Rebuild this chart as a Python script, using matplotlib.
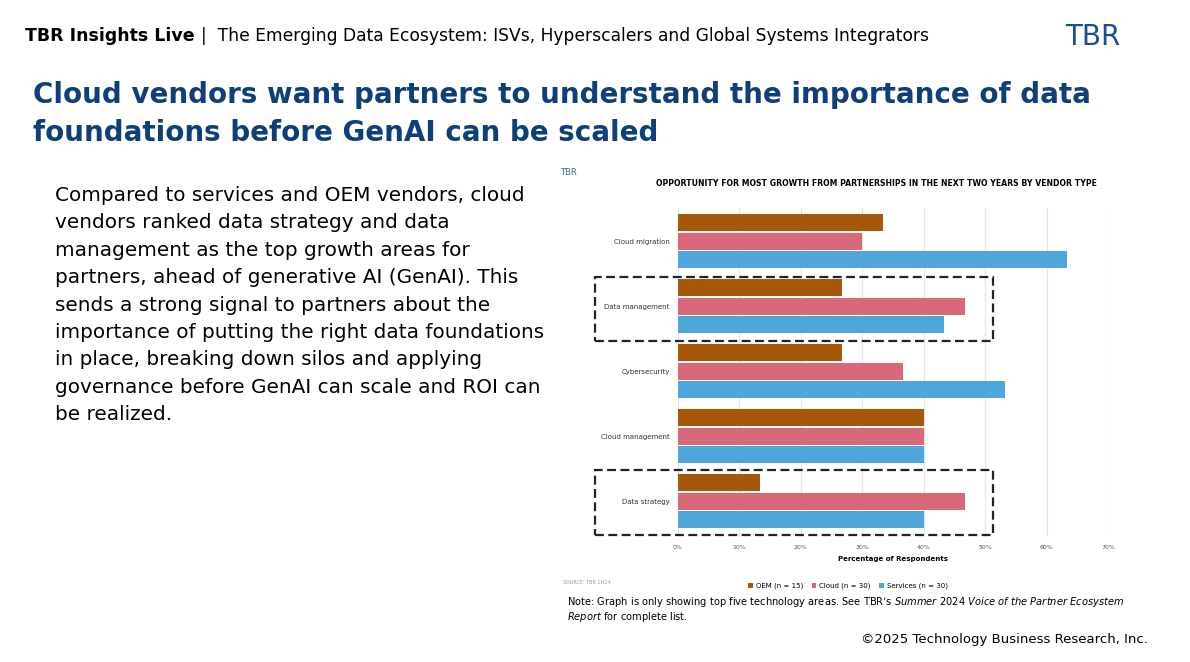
import matplotlib
matplotlib.use("Agg")
import matplotlib.pyplot as plt
from matplotlib.patches import Rectangle
import numpy as np

categories = ["Cloud migration", "Data management", "Cybersecurity", "Cloud management", "Data strategy"]
oem = [33.3, 26.7, 26.7, 40.0, 13.3]
cloud = [30.0, 46.7, 36.7, 40.0, 46.7]
services = [63.3, 43.3, 53.3, 40.0, 40.0]
xticks = [0, 10, 20, 30, 40, 50, 60, 70]

W, H = 1190, 662
fig = plt.figure(figsize=(W/100, H/100), dpi=100)
fig.patch.set_facecolor("white")
def fx(x): return x / W
def fy(y): return 1 - y / H

navy = "#0E3F78"
fig.text(fx(25), fy(36), "TBR Insights Live", fontsize=12.5, fontweight="bold", color="black", va="center")
fig.text(fx(201), fy(36), "|  The Emerging Data Ecosystem: ISVs, Hyperscalers and Global Systems Integrators", fontsize=12.3, color="black", va="center")
fig.text(fx(1065), fy(37), "TBR", fontsize=20, color="#1B4F8C", va="center")
fig.text(fx(33), fy(95), "Cloud vendors want partners to understand the importance of data", fontsize=20, fontweight="bold", color=navy, va="center")
fig.text(fx(33), fy(133), "foundations before GenAI can be scaled", fontsize=20, fontweight="bold", color=navy, va="center")

body = ("Compared to services and OEM vendors, cloud\nvendors ranked data strategy and data\nmanagement as the top growth areas for\n"
        "partners, ahead of generative AI (GenAI). This\nsends a strong signal to partners about the\n"
        "importance of putting the right data foundations\nin place, breaking down silos and applying\n"
        "governance before GenAI can scale and ROI can\nbe realized.")
fig.text(fx(55), fy(186), body, fontsize=14.4, color="black", va="top", linespacing=1.56)

fig.text(fx(560), fy(172), "TBR", fontsize=6, color="#2E6DA4", va="center")
fig.text(fx(876), fy(184), "OPPORTUNITY FOR MOST GROWTH FROM PARTNERSHIPS IN THE NEXT TWO YEARS BY VENDOR TYPE",
         fontsize=5.6, fontweight="bold", ha="center", va="center")

ax = fig.add_axes([fx(678), fy(537), fx(1108) - fx(678), (537 - 208) / H])
y = np.arange(len(categories))
off, h = 0.285, 0.265
ax.barh(y - off, oem, height=h, color="#A8580A", label="OEM (n = 15)")
ax.barh(y, cloud, height=h, color="#D9687A", label="Cloud (n = 30)")
ax.barh(y + off, services, height=h, color="#4EA6DB", label="Services (n = 30)")
ax.set_xlim(0, 70)
ax.set_ylim(4.55, -0.51)
ax.set_xticks(xticks)
ax.set_xticklabels([f"{t}%" for t in xticks], fontsize=4.5, color="#555555")
ax.set_yticks(y)
ax.set_yticklabels(categories, fontsize=5, color="#333333")
ax.tick_params(length=0, pad=6)
ax.grid(axis="x", color="#e6e6e6", lw=0.8)
ax.set_axisbelow(True)
for s in ax.spines.values():
    s.set_visible(False)
ax.set_xlabel("Percentage of Respondents", fontsize=5, fontweight="bold", labelpad=4)
fig.legend(loc="center", bbox_to_anchor=(fx(848), fy(586)), ncol=3, fontsize=5, frameon=False,
           handlelength=0.7, handleheight=0.7, columnspacing=1.2, handletextpad=0.4)
fig.text(fx(563), fy(582), "SOURCE: TBR 1H24", fontsize=3.5, color="#999999", va="center")

for top, bot in [(277, 341), (470, 535)]:
    fig.patches.append(Rectangle((fx(595), fy(bot)), fx(993) - fx(595), (bot - top) / H,
                                 transform=fig.transFigure, fill=False, ls=(0, (4, 2)), lw=1.6, ec="#222222"))

fig.text(fx(567), fy(602), "Note: Graph is only showing top five technology areas. See TBR\u2019s $\\it{Summer\\ 2024\\ Voice\\ of\\ the\\ Partner\\ Ecosystem}$",
         fontsize=7.1, va="center")
fig.text(fx(567), fy(617), "$\\it{Report}$ for complete list.", fontsize=7.1, va="center")
fig.text(fx(1148), fy(640), "\u00a92025 Technology Business Research, Inc.", fontsize=9.5, ha="right", va="center")

fig.savefig("out.png", dpi=100)
